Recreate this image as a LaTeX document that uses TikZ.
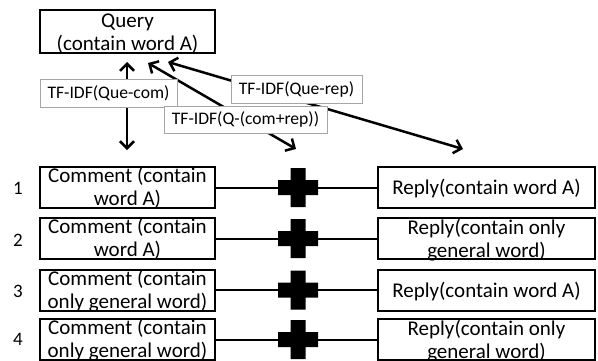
\documentclass[tikz,border=0pt]{standalone}
\usepackage{fontspec}
\setmainfont{Carlito}
\usetikzlibrary{arrows.meta}
\begin{document}
\begin{tikzpicture}[x=1pt,y=1pt,
  box/.style={draw, line width=2pt, minimum height=41pt, inner sep=0pt},
  cbox/.style={box, minimum width=175pt},
  rbox/.style={box, minimum width=217pt},
  btext/.style={align=center, anchor=base, inner sep=0pt, font=\fontsize{21}{23}\selectfont},
  lab/.style={draw=gray!70, fill=white, line width=0.8pt, inner sep=0pt, minimum height=28pt, font=\fontsize{17.6}{20}\selectfont},
  num/.style={inner sep=0pt, font=\fontsize{19}{22}\selectfont},
  conn/.style={line width=2pt},
  arr/.style={line width=2.5pt, {Straight Barb[length=7pt,width=14pt]}-{Straight Barb[length=7pt,width=14pt]}},
  plusn/.style={minimum width=40pt, minimum height=40pt, inner sep=0pt}]
\useasboundingbox (0,0) rectangle (598,360);

% query
\node[box, minimum width=175pt, minimum height=43pt, line width=2.5pt] (query) at (127.5,328.5) {};
\node[btext] (queryt) at (127.5,310) {Query\\(contain word A)};

% comment boxes
\node[cbox] (c1) at (127.5,172.5) {};
\node[cbox] (c2) at (127.5,121.5) {};
\node[cbox] (c3) at (127.5,70) {};
\node[cbox] (c4) at (127.5,20.5) {};
\node[btext] (c1t) at (127.5,154.5) {Comment (contain\\word A)};
\node[btext] (c2t) at (127.5,103.5) {Comment (contain\\word A)};
\node[btext] (c3t) at (127.5,52) {Comment (contain\\only general word)};
\node[btext] (c4t) at (127.5,2.5) {Comment (contain\\only general word)};

% reply boxes
\node[rbox] (r1) at (486.5,172.5) {};
\node[rbox] (r2) at (486.5,121.5) {};
\node[rbox] (r3) at (486.5,70) {};
\node[rbox] (r4) at (486.5,20.5) {};
\node[btext] (r1t) at (486.5,165.5) {Reply(contain word A)};
\node[btext] (r2t) at (486.5,102.5) {Reply(contain only\\general word)};
\node[btext] (r3t) at (486.5,63) {Reply(contain word A)};
\node[btext] (r4t) at (486.5,1.5) {Reply(contain only\\general word)};

% row numbers
\node[num] (n1) at (18,172) {1};
\node[num] (n2) at (18,120) {2};
\node[num] (n3) at (18,69) {3};
\node[num] (n4) at (18,21) {4};

% plus nodes
\node[plusn] (p1) at (298,172.5) {};
\node[plusn] (p2) at (298,121.5) {};
\node[plusn] (p3) at (298,70) {};
\node[plusn] (p4) at (298,20.5) {};

% connectors
\foreach \i in {1,2,3,4} {
  \draw[conn] (c\i.east) -- (p\i.center) -- (r\i.west);
  \fill[shift={(p\i.center)}] (-20,-7.5) rectangle (20,7.5) (-7.5,-19.5) rectangle (7.5,19.5);
}

% arrows
\coordinate (a1s) at (127,298);
\coordinate (a1e) at (127,210);
\coordinate (a2s) at (148,297);
\coordinate (a2e) at (296,211);
\coordinate (a3s) at (168,298);
\coordinate (a3e) at (463,211);
\draw[arr] (a1s) -- (a1e);
\draw[arr] (a2s) -- (a2e);
\draw[arr] (a3s) -- (a3e);

% labels
\node[lab, minimum width=137pt] (l1) at (108.5,266.5) {TF-IDF(Que-com)};
\node[lab, minimum width=131pt] (l2) at (296.5,271) {TF-IDF(Que-rep)};
\node[lab, minimum width=163pt, minimum height=27pt] (l3) at (245.5,240.5) {TF-IDF(Q-(com+rep))};
\end{tikzpicture}
\end{document}
